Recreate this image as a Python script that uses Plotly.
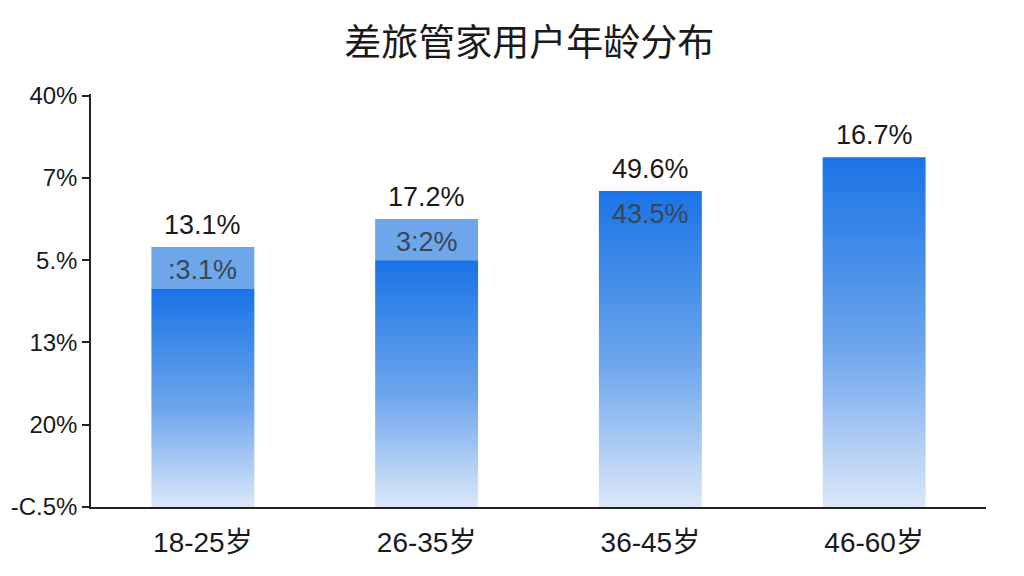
import plotly.graph_objects as go

# data (y in axis-tick units: one unit per tick step)
categories = ["18-25岁", "26-35岁", "36-45岁", "46-60岁"]
bar_top = [3.16, 3.50, 3.84, 4.25]
dark_top = [2.65, 3.00, 3.84, 4.25]
top_labels = ["13.1%", "17.2%", "49.6%", "16.7%"]
inner_labels = [":3.1%", "3:2%", "43.5%", ""]
ytick_labels = ["-C.5%", "20%", "13%", "5.%", "7%", "40%"]

BAR_W = 0.46
x_pos = list(range(len(categories)))

fig = go.Figure()

# gradient body of each bar
for i, x in enumerate(x_pos):
    x0, x1 = x - BAR_W / 2, x + BAR_W / 2
    h = dark_top[i]
    fig.add_trace(go.Scatter(
        x=[x0, x1, x1, x0, x0], y=[0, 0, h, h, 0],
        mode="lines", line=dict(width=0), fill="toself",
        fillgradient=dict(type="vertical", start=0, stop=h,
                          colorscale=[[0, "#dbe8f9"], [0.45, "#6ea6ec"], [1, "#1a73e6"]]),
        hoverinfo="skip", showlegend=False))

# lighter cap where the bar extends above the dark body
caps = [t - d for t, d in zip(bar_top, dark_top)]
fig.add_trace(go.Bar(x=x_pos, y=caps, base=dark_top, width=BAR_W,
                     marker=dict(color="#6ea6ec", line=dict(width=0)),
                     hoverinfo="skip", showlegend=False))

# value labels above and inside the bars
for x, top, lab, inner in zip(x_pos, bar_top, top_labels, inner_labels):
    fig.add_annotation(x=x, y=top, text=lab, showarrow=False,
                       yanchor="bottom", yshift=5,
                       font=dict(size=27, color="#1a1a1a", family="Liberation Sans, Arial"))
    if inner:
        fig.add_annotation(x=x, y=top, text=inner, showarrow=False,
                           yanchor="top", yshift=-6,
                           font=dict(size=27, color="#3a4656", family="Liberation Sans, Arial"))

fig.update_layout(
    width=1024, height=576,
    paper_bgcolor="white", plot_bgcolor="white",
    margin=dict(l=83, r=46, t=86, b=77, autoexpand=False),
    title=dict(text="差旅管家用户年龄分布", x=0.509, xanchor="center",
               y=0.94, yanchor="middle",
               font=dict(size=37, color="#1a1a1a", family="Noto Sans CJK SC")),
    font=dict(family="Liberation Sans, Noto Sans CJK SC", color="#1a1a1a"),
    showlegend=False,
)
fig.update_xaxes(range=[-0.5, 3.5], tickvals=x_pos, ticktext=categories,
                 showgrid=False, zeroline=False, showline=True,
                 linecolor="#222", linewidth=1.5, ticks="", ticklabelstandoff=10,
                 tickfont=dict(size=28, family="Liberation Sans, Noto Sans CJK SC", color="#1a1a1a"))
fig.update_yaxes(range=[0, 5.02], tickvals=list(range(6)), ticktext=ytick_labels,
                 showgrid=False, zeroline=False, showline=True,
                 linecolor="#222", linewidth=1.5, ticks="outside", ticklen=7,
                 tickcolor="#222", tickwidth=1.5,
                 tickfont=dict(size=24, color="#1a1a1a"))

fig.write_html("out.html")
